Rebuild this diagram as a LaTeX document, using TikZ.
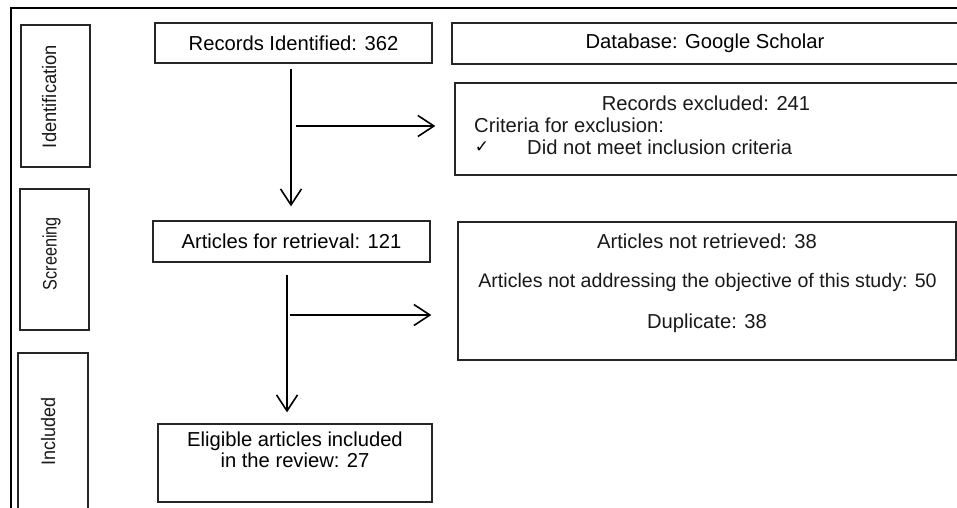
\documentclass[tikz,border=0pt]{standalone}
\usepackage{fontspec}
\setmainfont{Liberation Sans}
\newfontfamily\symfont{DejaVu Sans}
\usetikzlibrary{arrows.meta}
\begin{document}
\begin{tikzpicture}[x=1pt,y=-1pt,
  box/.style={draw=black!85, line width=1.3pt, inner sep=0pt, font=\fontsize{20.2}{21}\selectfont},
  txt/.style={inner sep=0pt, font=\fontsize{20.2}{21}\selectfont, text=black!90},
  stxt/.style={inner sep=0pt, font=\fontsize{19.5}{20}\selectfont, text=black!90, rotate=90, anchor=base},
  side/.style={draw=black!85, line width=1.3pt, inner sep=0pt},
  flow/.style={line width=1.9pt, -{Straight Barb[length=16pt,width=21pt,line width=1.6pt]}}
]
\useasboundingbox (0,0) rectangle (957,507);
\clip (0,0) rectangle (957,507);
% outer frame
\draw[line width=2.6pt] (11,530) -- (11,8) -- (975,8);
% stage labels
\node[side, minimum width=69pt, minimum height=142pt] (sid) at (55.5,96) {};
\node[stxt] (tid) at (56,96.5) {\resizebox{103pt}{\height}{Identification}};
\node[side, minimum width=69pt, minimum height=141pt] (ssc) at (54.5,259.5) {};
\node[stxt] (tsc) at (56.5,253.5) {\resizebox{73pt}{\height}{Screening}};
\node[side, minimum width=70pt, minimum height=157pt] (sin) at (53,431.5) {};
\node[stxt] (tin) at (55,431) {\resizebox{68pt}{\height}{Included}};
% main boxes
\node[box, minimum width=277pt, minimum height=40pt] (rec) at (293.5,43) {Records Identified: 362};
\node[box, minimum width=506pt, minimum height=41pt] (db) at (705,43.5) {Database: Google Scholar};
\node[box, minimum width=503pt, minimum height=92pt] (excl) at (706.5,129) {};
\node[txt] (ex1) at (706,103) {Records excluded: 241};
\node[txt, anchor=west] (ex2) at (474,125) {Criteria for exclusion:};
\node[inner sep=0pt, font=\symfont\fontsize{17}{18}\selectfont] (ex3a) at (482,147) {✓};
\node[txt, anchor=west] (ex3) at (527,147) {Did not meet inclusion criteria};
\node[box, minimum width=277pt, minimum height=41pt] (ret) at (291.5,241.5) {Articles for retrieval: 121};
\node[box, minimum width=498pt, minimum height=138pt] (nr) at (707,291) {};
\node[txt] (nr1) at (707,241) {Articles not retrieved: 38};
\node[txt, font=\fontsize{19.6}{21}\selectfont] (nr2) at (707.5,282) {Articles not addressing the objective of this study: 50};
\node[txt] (nr3) at (707,323) {Duplicate: 38};
\node[box, minimum width=274pt, minimum height=78pt, align=center] (elig) at (295,463) {Eligible articles included\\in the review: 27\\\strut};
% connectors
\coordinate (a1) at (291,69);
\coordinate (b1) at (291,126);
\coordinate (a2) at (287,275);
\coordinate (b2) at (287,315);
\draw[flow, shorten >=14pt] (a1) -- (a1 |- ret.north);
\draw[flow, shorten <=5pt, shorten >=19pt] (b1) -- (b1 -| excl.west);
\draw[flow, shorten >=11pt] (a2) -- (a2 |- elig.north);
\draw[flow, shorten <=3pt, shorten >=26pt] (b2) -- (b2 -| nr.west);
\end{tikzpicture}
\end{document}
